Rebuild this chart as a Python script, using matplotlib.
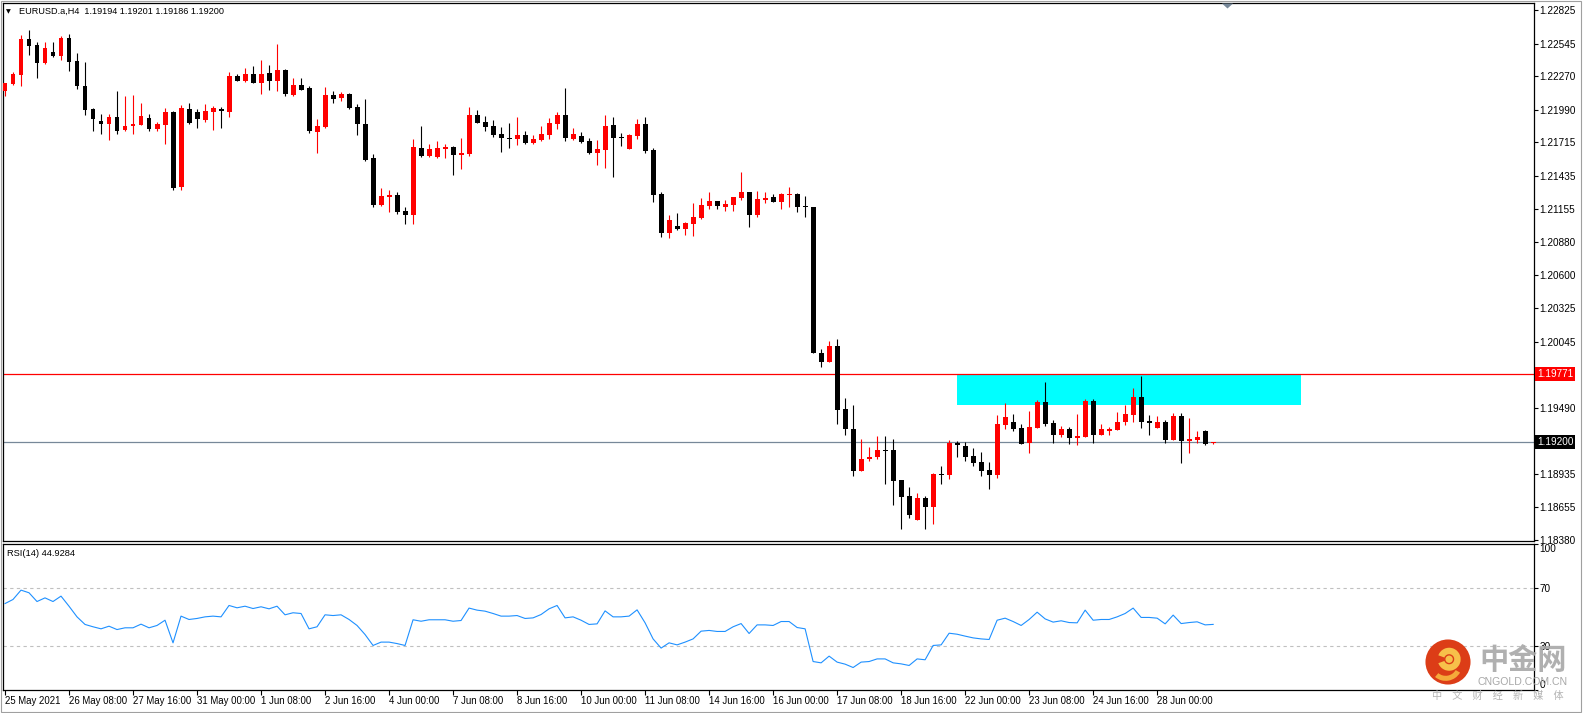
import matplotlib
matplotlib.use("Agg")
import matplotlib.pyplot as plt
import matplotlib.transforms as mtransforms
from matplotlib.patches import Circle, Polygon, Rectangle, Wedge
import numpy as np

plt.rcParams["font.family"] = ["Liberation Sans", "DejaVu Sans"]

OUTPUT_PATH = "out.png"
FIG_W, FIG_H = 1583, 713
FONT_SIZE = 7.2

SYMBOL = "EURUSD.a,H4"
LAST_QUOTE = [1.19194, 1.19201, 1.19186, 1.19200]

# H4 bars, 25 May 2021 00:00 .. 29 Jun 2021
OPEN = [
    1.22148, 1.22204, 1.22280, 1.22582, 1.22532, 1.22384, 1.22473, 1.22442,
    1.22591, 1.22398, 1.22188, 1.21994, 1.21894, 1.21868, 1.21927, 1.21818,
    1.21854, 1.21863, 1.21919, 1.21826, 1.21860, 1.21969, 1.21342, 1.22000,
    1.21969, 1.21902, 1.21972, 1.21994, 1.21972, 1.22269, 1.22232, 1.22288,
    1.22216, 1.22294, 1.22233, 1.22323, 1.22116, 1.22197, 1.22169, 1.21805,
    1.21844, 1.22113, 1.22091, 1.22121, 1.22012, 1.21869, 1.21584, 1.21189,
    1.21256, 1.21273, 1.21139, 1.21105, 1.21668, 1.21601, 1.21592, 1.21662,
    1.21676, 1.21609, 1.21620, 1.21945, 1.21886, 1.21853, 1.21785, 1.21752,
    1.21746, 1.21774, 1.21710, 1.21735, 1.21777, 1.21872, 1.21945, 1.21743,
    1.21769, 1.21727, 1.21629, 1.21651, 1.21861, 1.21760, 1.21659, 1.21769,
    1.21869, 1.21651, 1.21281, 1.20954, 1.21013, 1.20987, 1.21029, 1.21080,
    1.21181, 1.21223, 1.21172, 1.21189, 1.21248, 1.21298, 1.21105, 1.21231,
    1.21256, 1.21214, 1.21276, 1.21281, 1.21179, 1.21173, 1.19947, 1.19874,
    1.20006, 1.19476, 1.19311, 1.18958, 1.19059, 1.19073, 1.19132, 1.19132,
    1.18880, 1.18746, 1.18547, 1.18729, 1.18656, 1.18931, 1.18926, 1.19192,
    1.19167, 1.19083, 1.19032, 1.18965, 1.18926, 1.19343, 1.19368, 1.19318,
    1.19195, 1.19318, 1.19536, 1.19360, 1.19262, 1.19309, 1.19237, 1.19245,
    1.19545, 1.19262, 1.19295, 1.19304, 1.19368, 1.19427, 1.19578, 1.19379,
    1.19318, 1.19368, 1.19220, 1.19419, 1.19211, 1.19220, 1.19293, 1.19194,
]
HIGH = [
    1.22216, 1.22305, 1.22616, 1.22658, 1.22560, 1.22560, 1.22557, 1.22608,
    1.22624, 1.22468, 1.22389, 1.22008, 1.21958, 1.21952, 1.22146, 1.22104,
    1.22112, 1.22045, 1.21950, 1.21885, 1.22003, 1.21975, 1.22028, 1.22045,
    1.21992, 1.22034, 1.22022, 1.22011, 1.22305, 1.22288, 1.22339, 1.22356,
    1.22406, 1.22368, 1.22541, 1.22331, 1.22253, 1.22253, 1.22189, 1.21911,
    1.22180, 1.22147, 1.22141, 1.22133, 1.22037, 1.22079, 1.21617, 1.21332,
    1.21315, 1.21298, 1.21172, 1.21743, 1.21853, 1.21701, 1.21727, 1.21701,
    1.21682, 1.21752, 1.22012, 1.21987, 1.21937, 1.21903, 1.21844, 1.21878,
    1.21928, 1.21811, 1.21777, 1.21853, 1.21920, 1.21970, 1.22172, 1.21836,
    1.21802, 1.21752, 1.21735, 1.21945, 1.21928, 1.21794, 1.21785, 1.21911,
    1.21928, 1.21668, 1.21298, 1.21105, 1.21122, 1.21046, 1.21206, 1.21248,
    1.21298, 1.21225, 1.21231, 1.21259, 1.21466, 1.21301, 1.21307, 1.21298,
    1.21281, 1.21290, 1.21340, 1.21290, 1.21266, 1.21173, 1.19986, 1.20048,
    1.20064, 1.19569, 1.19510, 1.19224, 1.19157, 1.19250, 1.19250, 1.19224,
    1.18880, 1.18821, 1.18771, 1.18746, 1.18942, 1.18999, 1.19217, 1.19209,
    1.19200, 1.19150, 1.19116, 1.19032, 1.19427, 1.19528, 1.19435, 1.19351,
    1.19461, 1.19553, 1.19704, 1.19385, 1.19335, 1.19326, 1.19435, 1.19561,
    1.19561, 1.19351, 1.19326, 1.19452, 1.19511, 1.19654, 1.19755, 1.19427,
    1.19419, 1.19385, 1.19444, 1.19444, 1.19402, 1.19293, 1.19301, 1.19201,
]
LOW = [
    1.22106, 1.22196, 1.22188, 1.22448, 1.22258, 1.22370, 1.22428, 1.22406,
    1.22314, 1.22160, 1.21944, 1.21812, 1.21787, 1.21737, 1.21787, 1.21812,
    1.21787, 1.21860, 1.21812, 1.21812, 1.21703, 1.21314, 1.21317, 1.21874,
    1.21838, 1.21885, 1.21821, 1.21838, 1.21927, 1.22227, 1.22224, 1.22216,
    1.22123, 1.22157, 1.22149, 1.22107, 1.22107, 1.22158, 1.21791, 1.21629,
    1.21833, 1.22049, 1.22065, 1.21995, 1.21780, 1.21561, 1.21175, 1.21181,
    1.21130, 1.21116, 1.21032, 1.21032, 1.21592, 1.21589, 1.21587, 1.21587,
    1.21441, 1.21491, 1.21603, 1.21881, 1.21813, 1.21763, 1.21637, 1.21671,
    1.21693, 1.21704, 1.21704, 1.21727, 1.21743, 1.21827, 1.21729, 1.21735,
    1.21710, 1.21617, 1.21525, 1.21500, 1.21424, 1.21685, 1.21659, 1.21743,
    1.21626, 1.21214, 1.20920, 1.20912, 1.20979, 1.20937, 1.20929, 1.21071,
    1.21155, 1.21155, 1.21139, 1.21139, 1.21231, 1.21004, 1.21088, 1.21206,
    1.21214, 1.21155, 1.21172, 1.21130, 1.21092, 1.19950, 1.19832, 1.19874,
    1.19353, 1.19261, 1.18916, 1.18958, 1.19042, 1.19059, 1.18849, 1.18673,
    1.18471, 1.18564, 1.18547, 1.18471, 1.18513, 1.18850, 1.18892, 1.19077,
    1.19043, 1.19001, 1.18917, 1.18808, 1.18901, 1.19312, 1.19295, 1.19186,
    1.19111, 1.19318, 1.19337, 1.19195, 1.19245, 1.19186, 1.19178, 1.19245,
    1.19195, 1.19262, 1.19262, 1.19304, 1.19346, 1.19368, 1.19318, 1.19262,
    1.19318, 1.19195, 1.19220, 1.19027, 1.19111, 1.19195, 1.19178, 1.19186,
]
CLOSE = [
    1.22210, 1.22288, 1.22582, 1.22526, 1.22384, 1.22504, 1.22442, 1.22594,
    1.22392, 1.22190, 1.21986, 1.21910, 1.21871, 1.21927, 1.21812, 1.21852,
    1.21868, 1.21936, 1.21826, 1.21866, 1.21969, 1.21334, 1.22003, 1.21880,
    1.21908, 1.21978, 1.22006, 1.21975, 1.22272, 1.22232, 1.22288, 1.22216,
    1.22288, 1.22232, 1.22323, 1.22124, 1.22197, 1.22158, 1.21808, 1.21853,
    1.22113, 1.22082, 1.22121, 1.22004, 1.21867, 1.21570, 1.21189, 1.21265,
    1.21276, 1.21130, 1.21108, 1.21676, 1.21601, 1.21659, 1.21668, 1.21676,
    1.21612, 1.21626, 1.21945, 1.21881, 1.21847, 1.21780, 1.21755, 1.21746,
    1.21774, 1.21713, 1.21743, 1.21785, 1.21878, 1.21945, 1.21752, 1.21785,
    1.21718, 1.21626, 1.21659, 1.21853, 1.21755, 1.21755, 1.21777, 1.21869,
    1.21643, 1.21273, 1.20954, 1.21063, 1.20990, 1.21038, 1.21088, 1.21189,
    1.21223, 1.21181, 1.21197, 1.21256, 1.21298, 1.21105, 1.21239, 1.21248,
    1.21214, 1.21281, 1.21281, 1.21172, 1.21170, 1.19950, 1.19874, 1.20006,
    1.19471, 1.19311, 1.18958, 1.19056, 1.19076, 1.19132, 1.19126, 1.18874,
    1.18740, 1.18589, 1.18729, 1.18656, 1.18930, 1.18926, 1.19195, 1.19178,
    1.19077, 1.19027, 1.18959, 1.18926, 1.19351, 1.19410, 1.19312, 1.19186,
    1.19326, 1.19536, 1.19354, 1.19262, 1.19309, 1.19237, 1.19251, 1.19545,
    1.19262, 1.19309, 1.19312, 1.19368, 1.19435, 1.19578, 1.19371, 1.19363,
    1.19368, 1.19220, 1.19419, 1.19211, 1.19228, 1.19242, 1.19186, 1.19200,
]
RSI = [
    59.2, 62.0, 68.4, 66.6, 60.6, 63.1, 60.6, 64.3, 57.4, 50.1, 44.9, 43.3,
    41.9, 43.7, 41.4, 42.6, 42.6, 45.1, 42.6, 44.2, 47.8, 32.3, 50.6, 48.3,
    49.0, 50.1, 50.6, 50.1, 57.9, 56.3, 57.4, 55.8, 57.0, 55.6, 57.4, 51.5,
    52.9, 52.4, 41.9, 43.3, 51.5, 51.0, 51.5, 48.3, 44.2, 38.0, 30.5, 32.8,
    32.8, 31.8, 30.5, 48.1, 47.1, 48.1, 48.1, 48.1, 47.1, 47.6, 56.1, 54.7,
    54.0, 52.4, 50.6, 50.6, 51.0, 49.0, 49.4, 51.7, 55.6, 57.9, 49.4, 50.1,
    47.8, 44.9, 45.3, 54.2, 50.1, 50.1, 50.6, 54.9, 46.0, 35.0, 28.7, 32.3,
    30.9, 32.8, 35.0, 40.3, 40.8, 40.1, 40.1, 43.3, 45.5, 38.7, 44.6, 44.6,
    44.2, 46.9, 46.9, 42.8, 41.9, 19.5, 18.6, 23.2, 19.1, 17.7, 15.4, 19.1,
    19.5, 21.3, 21.3, 18.6, 17.9, 16.8, 21.3, 20.7, 30.5, 30.9, 38.9, 38.2,
    36.9, 35.7, 35.0, 34.6, 47.8, 49.2, 46.9, 44.2, 48.3, 53.3, 48.7, 46.5,
    47.4, 46.2, 46.0, 54.7, 47.8, 48.3, 48.3, 50.1, 52.4, 56.1, 49.7, 49.7,
    49.2, 45.3, 51.3, 45.5, 46.2, 46.7, 44.6, 44.93,
]
RSI_PERIOD = 14
RSI_LAST = 44.9284
RSI_LEVELS = [70, 30]
RSI_TICKS = [100, 70, 30, 0]

DATE_LABELS = [
    "25 May 2021", "26 May 08:00", "27 May 16:00", "31 May 00:00",
    "1 Jun 08:00", "2 Jun 16:00", "4 Jun 00:00", "7 Jun 08:00",
    "8 Jun 16:00", "10 Jun 00:00", "11 Jun 08:00", "14 Jun 16:00",
    "16 Jun 00:00", "17 Jun 08:00", "18 Jun 16:00", "22 Jun 00:00",
    "23 Jun 08:00", "24 Jun 16:00", "28 Jun 00:00",
]
DATE_LABEL_BARS = [0, 8, 16, 24, 32, 40, 48, 56, 64, 72, 80, 88, 96, 104,
                   112, 120, 128, 136, 144]

PRICE_TICKS = [1.22825, 1.22545, 1.22270, 1.21990, 1.21715, 1.21435, 1.21155,
               1.20880, 1.20600, 1.20325, 1.20045, 1.19490, 1.18935, 1.18655,
               1.18380]
RESISTANCE = 1.19771
BID = 1.19200
ZONE_BARS = [119, 162]
ZONE_PRICES = [1.19515, 1.19766]

BULL_COLOR = "#ff0000"
BEAR_COLOR = "#000000"
BID_COLOR = "#778899"


def px_box(left, top, right, bottom):
    return [left / FIG_W, 1 - bottom / FIG_H, (right - left) / FIG_W, (bottom - top) / FIG_H]


def fig_xy(x, y):
    return x / FIG_W, 1 - y / FIG_H


def style_frame(ax):
    for spine in ax.spines.values():
        spine.set_color("black")
        spine.set_linewidth(0.9)


def draw_candles(ax):
    o, h, l, c = (np.array(v) for v in (OPEN, HIGH, LOW, CLOSE))
    x = np.arange(len(o))
    colors = np.where(c >= o, BULL_COLOR, BEAR_COLOR)
    ax.vlines(x, l, h, colors=colors, linewidth=0.8, zorder=3)
    body = np.maximum(np.abs(c - o), 0.00009)
    ax.bar(x, body, width=0.62, bottom=np.minimum(o, c), color=colors,
           linewidth=0, zorder=4)


def price_box(ax, price, face):
    trans = mtransforms.blended_transform_factory(ax.transAxes, ax.transData)
    ax.annotate(f"{price:.5f}", xy=(1, price), xycoords=trans,
                xytext=(2.2, 0), textcoords="offset points",
                ha="left", va="center", fontsize=FONT_SIZE, color="white",
                bbox=dict(boxstyle="square,pad=0.18", fc=face, ec="none"),
                annotation_clip=False, zorder=10)


def draw_main(fig):
    ax = fig.add_axes(px_box(3, 3, 1534, 541))
    style_frame(ax)

    ax.add_patch(Rectangle((ZONE_BARS[0], ZONE_PRICES[0]),
                           ZONE_BARS[1] - ZONE_BARS[0],
                           ZONE_PRICES[1] - ZONE_PRICES[0],
                           facecolor="#00ffff", edgecolor="none", zorder=1))
    ax.axhline(RESISTANCE, color="#ff0000", linewidth=0.9, zorder=2)
    ax.axhline(BID, color=BID_COLOR, linewidth=0.9, zorder=2)
    draw_candles(ax)

    ax.set_xlim(-0.25, 191.1)
    ax.set_ylim(1.18372, 1.22885)
    ax.set_xticks([])
    ax.yaxis.tick_right()
    ax.set_yticks(PRICE_TICKS)
    ax.set_yticklabels([f"{p:.5f}" for p in PRICE_TICKS])
    ax.tick_params(axis="y", direction="out", length=3, width=0.8, pad=0.8,
                   labelsize=FONT_SIZE)

    price_box(ax, RESISTANCE, "#ff0000")
    price_box(ax, BID, "#000000")

    header = f"{SYMBOL}  " + " ".join(f"{v:.5f}" for v in LAST_QUOTE)
    fig.text(*fig_xy(19, 11.5), header, fontsize=6.6, va="center")
    fig.text(*fig_xy(6, 11.5), "▼", fontsize=4.5, va="center",
             family="DejaVu Sans")
    return ax


def draw_rsi(fig):
    ax = fig.add_axes(px_box(3, 544, 1534, 690))
    style_frame(ax)
    x = np.arange(len(RSI))
    ax.plot(x, RSI, color="#1e90ff", linewidth=0.8, zorder=3)
    for level in RSI_LEVELS:
        ax.axhline(level, color="#c0c0c0", linewidth=0.8,
                   linestyle=(0, (3, 3)), zorder=1)

    ax.set_xlim(-0.25, 191.1)
    ax.set_ylim(0, 100)
    ax.yaxis.tick_right()
    ax.set_yticks(RSI_TICKS)
    ax.set_yticklabels([str(t) for t in RSI_TICKS])
    ax.tick_params(axis="y", direction="out", length=3, width=0.8, pad=0.8,
                   labelsize=FONT_SIZE)
    ylabels = ax.get_yticklabels()
    ylabels[0].set_va("top")
    ylabels[-1].set_va("bottom")

    ax.set_xticks(DATE_LABEL_BARS)
    ax.set_xticklabels(DATE_LABELS)
    ax.tick_params(axis="x", direction="out", length=3.5, width=0.8, pad=0.5,
                   labelsize=6.9)
    for lbl in ax.get_xticklabels():
        lbl.set_ha("left")

    fig.text(*fig_xy(7, 554), f"RSI({RSI_PERIOD}) {RSI_LAST:.4f}",
             fontsize=6.7, va="center")
    return ax


def draw_decor(fig):
    # window frame and chart-shift marker
    fig.add_artist(Rectangle((0.0005, 0.001), 0.998, 0.998, transform=fig.transFigure,
                             fill=False, edgecolor="#a0a0a0", linewidth=0.8))
    tri = [fig_xy(1222, 3.5), fig_xy(1233, 3.5), fig_xy(1227.5, 8.5)]
    fig.add_artist(Polygon(tri, closed=True, transform=fig.transFigure,
                           facecolor=BID_COLOR, edgecolor="none"))

    # watermark
    logo = fig.add_axes(px_box(1425, 639, 1471, 685))
    logo.set_xlim(-1, 1)
    logo.set_ylim(-1, 1)
    logo.axis("off")
    logo.patch.set_alpha(0)
    logo.add_patch(Circle((0, 0), 0.98, facecolor="#dc3d17", edgecolor="none"))
    logo.add_patch(Wedge((0.05, 0.12), 0.5, 200, 520, width=0.28,
                         facecolor="#f7c04a", edgecolor="none"))
    logo.add_patch(Wedge((-0.1, -0.1), 0.72, 230, 330, width=0.22,
                         facecolor="#f5a93a", edgecolor="none"))
    logo.add_patch(Circle((0.05, 0.12), 0.16, facecolor="#f7c04a", edgecolor="none"))

    cjk = ["Noto Sans CJK SC", "DejaVu Sans"]
    fig.text(*fig_xy(1523, 660), "中金网", fontsize=21, fontweight="bold",
             color="#a8a8a8", ha="center", va="center", family=cjk, alpha=0.9)
    fig.text(*fig_xy(1523, 682), "CNGOLD.COM.CN", fontsize=7.6,
             color="#a8a8a8", ha="center", va="center")
    fig.text(*fig_xy(1498, 696), "中　文　财　经　新　媒　体", fontsize=7.3,
             color="#b4b4b4", ha="center", va="center", family=cjk)


def main():
    fig = plt.figure(figsize=(FIG_W / 100, FIG_H / 100), dpi=100)
    fig.patch.set_facecolor("white")
    draw_main(fig)
    draw_rsi(fig)
    draw_decor(fig)
    fig.savefig(OUTPUT_PATH, dpi=100)
    plt.close(fig)


if __name__ == "__main__":
    main()
